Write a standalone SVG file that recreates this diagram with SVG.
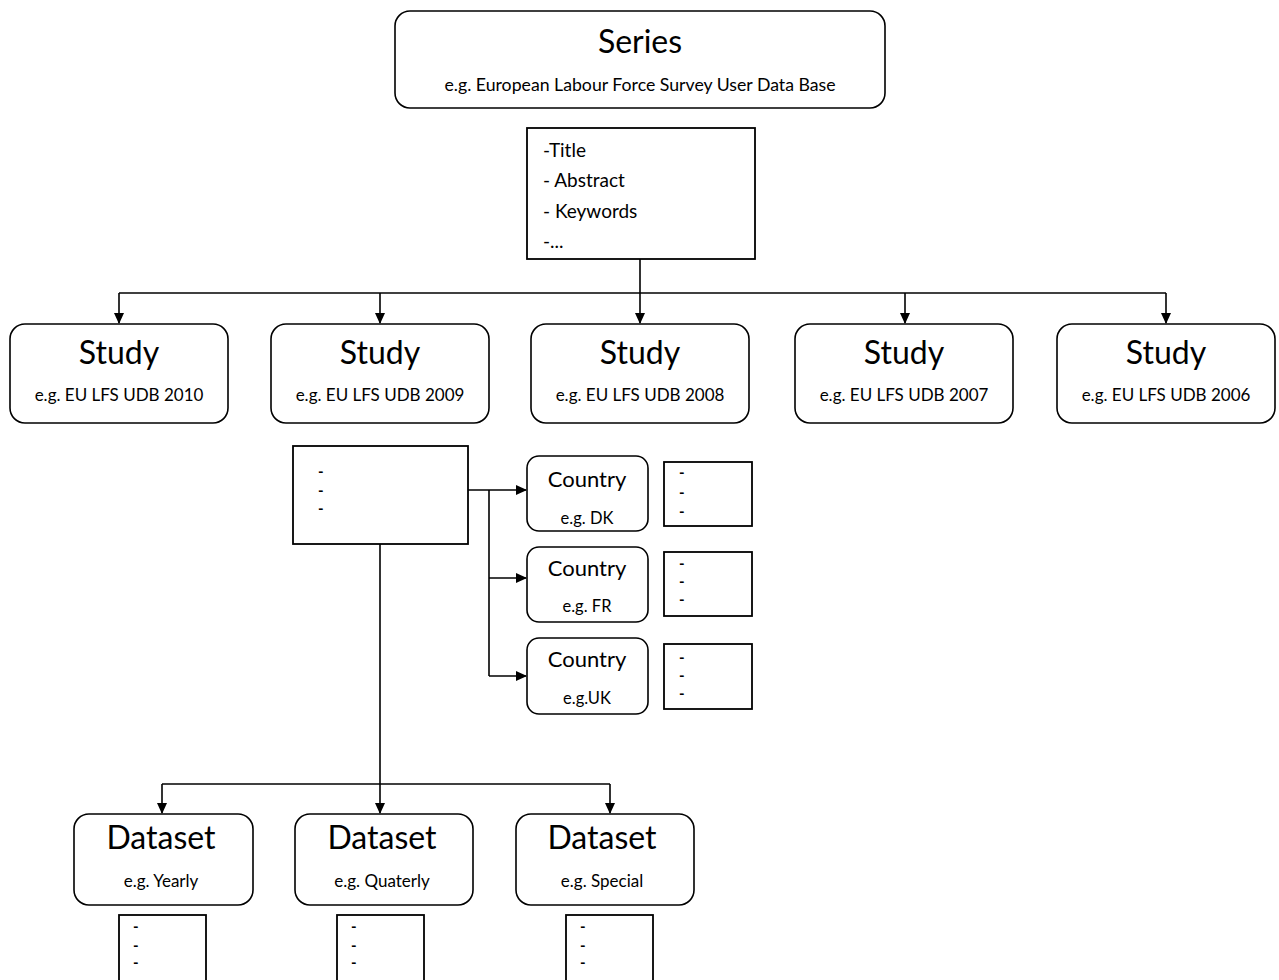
<svg xmlns="http://www.w3.org/2000/svg" width="1279" height="980" viewBox="0 0 1279 980">
<defs>
<marker id="ah" markerWidth="12" markerHeight="12" refX="10" refY="5" orient="auto" markerUnits="userSpaceOnUse"><path d="M0,0 L11,5 L0,10 Z" fill="#000"/></marker>
<style>
text{font-family:Lato,"Open Sans","Liberation Sans",sans-serif;fill:#000}
.rr{fill:#fff;stroke:#000;stroke-width:1.6}
.bx{fill:#fff;stroke:#000;stroke-width:1.8}
.t1{font-size:32px;text-anchor:middle}
.t2{font-size:17px;text-anchor:middle}
.t3{font-size:17.7px;text-anchor:middle}
.ct{font-size:22px;text-anchor:middle}
.cs{font-size:16.5px;text-anchor:middle}
.ls{font-size:19px}
.d{font-size:15px;font-weight:bold}
.cn{fill:none;stroke:#000;stroke-width:1.6}
</style>
</defs>
<rect width="1279" height="980" fill="#fff"/>
<g id="connectors">
<path class="cn" d="M640,259 V293"/>
<path class="cn" d="M119,293 H1166"/>
<path class="cn" d="M119,293 V323" marker-end="url(#ah)"/>
<path class="cn" d="M380,293 V323" marker-end="url(#ah)"/>
<path class="cn" d="M640,293 V323" marker-end="url(#ah)"/>
<path class="cn" d="M905,293 V323" marker-end="url(#ah)"/>
<path class="cn" d="M1166,293 V323" marker-end="url(#ah)"/>
<path class="cn" d="M468,490 H526" marker-end="url(#ah)"/>
<path class="cn" d="M489,490 V676"/>
<path class="cn" d="M489,578 H526" marker-end="url(#ah)"/>
<path class="cn" d="M489,676 H526" marker-end="url(#ah)"/>
<path class="cn" d="M380,544 V813" marker-end="url(#ah)"/>
<path class="cn" d="M162,784 H610"/>
<path class="cn" d="M162,784 V813" marker-end="url(#ah)"/>
<path class="cn" d="M610,784 V813" marker-end="url(#ah)"/>
</g>
<g id="series">
<rect class="rr" x="395" y="11" width="490" height="97" rx="15"/>
<text class="t1" x="640" y="53">Series</text>
<text class="t3" x="640" y="91">e.g. European Labour Force Survey User Data Base</text>
</g>
<g id="series-meta">
<rect class="bx" x="527" y="128" width="228" height="131"/>
<text class="ls" x="543" y="157">-Title</text>
<text class="ls" x="543" y="187">- Abstract</text>
<text class="ls" x="543" y="218">- Keywords</text>
<text class="ls" x="543" y="248">-...</text>
</g>
<g id="study-2010">
<rect class="rr" x="10" y="324" width="218" height="99" rx="15"/>
<text class="t1" x="119" y="364">Study</text>
<text class="t2" x="119" y="401">e.g. EU LFS UDB 2010</text>
</g>
<g id="study-2009">
<rect class="rr" x="271" y="324" width="218" height="99" rx="15"/>
<text class="t1" x="380" y="364">Study</text>
<text class="t2" x="380" y="401">e.g. EU LFS UDB 2009</text>
</g>
<g id="study-2008">
<rect class="rr" x="531" y="324" width="218" height="99" rx="15"/>
<text class="t1" x="640" y="364">Study</text>
<text class="t2" x="640" y="401">e.g. EU LFS UDB 2008</text>
</g>
<g id="study-2007">
<rect class="rr" x="795" y="324" width="218" height="99" rx="15"/>
<text class="t1" x="904" y="364">Study</text>
<text class="t2" x="904" y="401">e.g. EU LFS UDB 2007</text>
</g>
<g id="study-2006">
<rect class="rr" x="1057" y="324" width="218" height="99" rx="15"/>
<text class="t1" x="1166" y="364">Study</text>
<text class="t2" x="1166" y="401">e.g. EU LFS UDB 2006</text>
</g>
<g id="study-meta">
<rect class="bx" x="293" y="446" width="175" height="98"/>
<text class="d" x="318" y="477">-</text>
<text class="d" x="318" y="496">-</text>
<text class="d" x="318" y="514">-</text>
</g>
<g id="country-dk">
<rect class="rr" x="527" y="456" width="121" height="75" rx="12"/>
<text class="ct" x="587" y="487">Country</text>
<text class="cs" x="587" y="524">e.g. DK</text>
</g>
<g id="country-fr">
<rect class="rr" x="527" y="547" width="121" height="75" rx="12"/>
<text class="ct" x="587" y="576">Country</text>
<text class="cs" x="587" y="612">e.g. FR</text>
</g>
<g id="country-uk">
<rect class="rr" x="527" y="638" width="121" height="76" rx="12"/>
<text class="ct" x="587" y="667">Country</text>
<text class="cs" x="587" y="704">e.g.UK</text>
</g>
<g id="dk-meta">
<rect class="bx" x="664" y="462" width="88" height="64"/>
<text class="d" x="679" y="478">-</text>
<text class="d" x="679" y="498">-</text>
<text class="d" x="679" y="517">-</text>
</g>
<g id="fr-meta">
<rect class="bx" x="664" y="552" width="88" height="64"/>
<text class="d" x="679" y="569">-</text>
<text class="d" x="679" y="587">-</text>
<text class="d" x="679" y="605">-</text>
</g>
<g id="uk-meta">
<rect class="bx" x="664" y="644" width="88" height="65"/>
<text class="d" x="679" y="663">-</text>
<text class="d" x="679" y="681">-</text>
<text class="d" x="679" y="699">-</text>
</g>
<g id="dataset-yearly">
<rect class="rr" x="74" y="814" width="179" height="91" rx="15"/>
<text class="t1" x="161" y="849">Dataset</text>
<text class="t2" x="161" y="887">e.g. Yearly</text>
</g>
<g id="dataset-quaterly">
<rect class="rr" x="295" y="814" width="178" height="91" rx="15"/>
<text class="t1" x="382" y="849">Dataset</text>
<text class="t2" x="382" y="887">e.g. Quaterly</text>
</g>
<g id="dataset-special">
<rect class="rr" x="516" y="814" width="178" height="91" rx="15"/>
<text class="t1" x="602" y="849">Dataset</text>
<text class="t2" x="602" y="887">e.g. Special</text>
</g>
<g id="yearly-meta">
<rect class="bx" x="119" y="915" width="87" height="80"/>
<text class="d" x="133" y="932">-</text>
<text class="d" x="133" y="951">-</text>
<text class="d" x="133" y="968">-</text>
</g>
<g id="quaterly-meta">
<rect class="bx" x="337" y="915" width="87" height="80"/>
<text class="d" x="351" y="932">-</text>
<text class="d" x="351" y="951">-</text>
<text class="d" x="351" y="968">-</text>
</g>
<g id="special-meta">
<rect class="bx" x="566" y="915" width="87" height="80"/>
<text class="d" x="580" y="932">-</text>
<text class="d" x="580" y="951">-</text>
<text class="d" x="580" y="968">-</text>
</g>
</svg>
